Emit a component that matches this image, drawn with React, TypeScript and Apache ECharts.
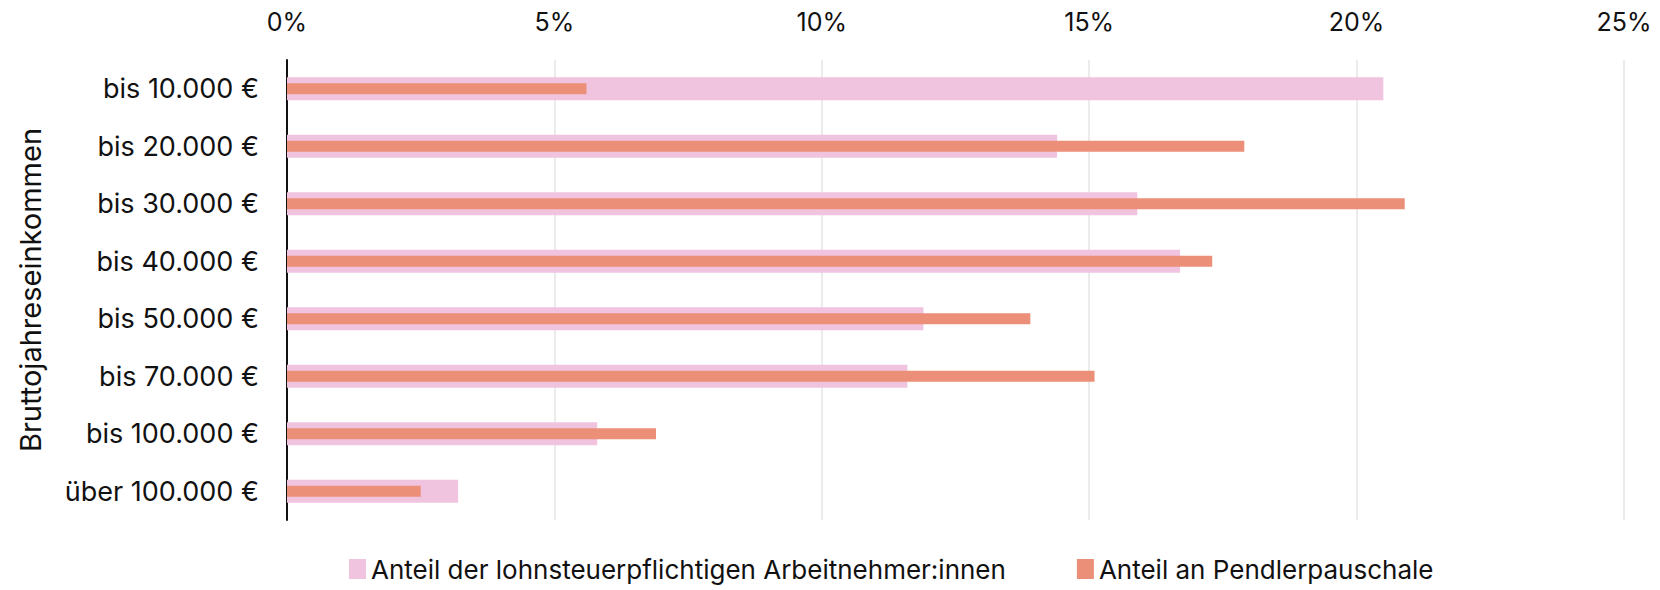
import React, { useEffect, useRef } from "react";
import * as echarts from "echarts";

const categories = [
  "bis 10.000 €",
  "bis 20.000 €",
  "bis 30.000 €",
  "bis 40.000 €",
  "bis 50.000 €",
  "bis 70.000 €",
  "bis 100.000 €",
  "über 100.000 €",
];
const arbeitnehmer = [20.5, 14.4, 15.9, 16.7, 11.9, 11.6, 5.8, 3.2];
const pendler = [5.6, 17.9, 20.9, 17.3, 13.9, 15.1, 6.9, 2.5];
const seriesNames = [
  "Anteil der lohnsteuerpflichtigen Arbeitnehmer:innen",
  "Anteil an Pendlerpauschale",
];
const axisTitle = "Bruttojahreseinkommen";

const FONT = "Inter";

export default function App() {
  const ref = useRef<HTMLDivElement>(null);
  useEffect(() => {
    if (!ref.current) return;
    document.body.style.margin = "0";
    const chart = echarts.init(ref.current, null, { renderer: "svg" });
    chart.setOption({
      animation: false,
      textStyle: { fontFamily: FONT, color: "#111" },
      grid: { left: 287, right: 36, top: 60, height: 460 },
      legend: {
        left: 344,
        top: 551,
        itemWidth: 17,
        itemHeight: 20,
        itemGap: 71,
        icon: "rect",
        textStyle: { fontFamily: FONT, fontSize: 26, color: "#111" },
        data: seriesNames,
      },
      xAxis: {
        type: "value",
        position: "top",
        min: 0,
        max: 25,
        interval: 5,
        axisLine: { show: false },
        axisTick: { show: false },
        splitLine: { lineStyle: { color: "#e4e4e4", width: 1.5 } },
        axisLabel: {
          formatter: "{value}%",
          fontSize: 25,
          color: "#111",
          margin: 26,
          fontFamily: FONT,
        },
      },
      yAxis: [
        {
          type: "category",
          inverse: true,
          data: categories,
          axisLine: { show: true, lineStyle: { color: "#111", width: 2 } },
          axisTick: { show: false },
          axisLabel: { fontSize: 27, color: "#111", margin: 28, fontFamily: FONT },
          name: axisTitle,
          nameLocation: "middle",
          nameGap: 242,
          nameRotate: 90,
          nameTextStyle: { fontSize: 29, color: "#111", fontFamily: FONT },
        },
        {
          type: "category",
          inverse: true,
          data: categories,
          show: false,
        },
      ],
      series: [
        {
          name: seriesNames[0],
          type: "bar",
          yAxisIndex: 0,
          data: arbeitnehmer,
          barWidth: 23,
          itemStyle: { color: "#f0c3df" },
        },
        {
          name: seriesNames[1],
          type: "bar",
          yAxisIndex: 1,
          data: pendler,
          barWidth: 11,
          itemStyle: { color: "#ec8f78" },
        },
      ],
    });
    return () => chart.dispose();
  }, []);
  return <div ref={ref} style={{ width: 1660, height: 590 }} />;
}
